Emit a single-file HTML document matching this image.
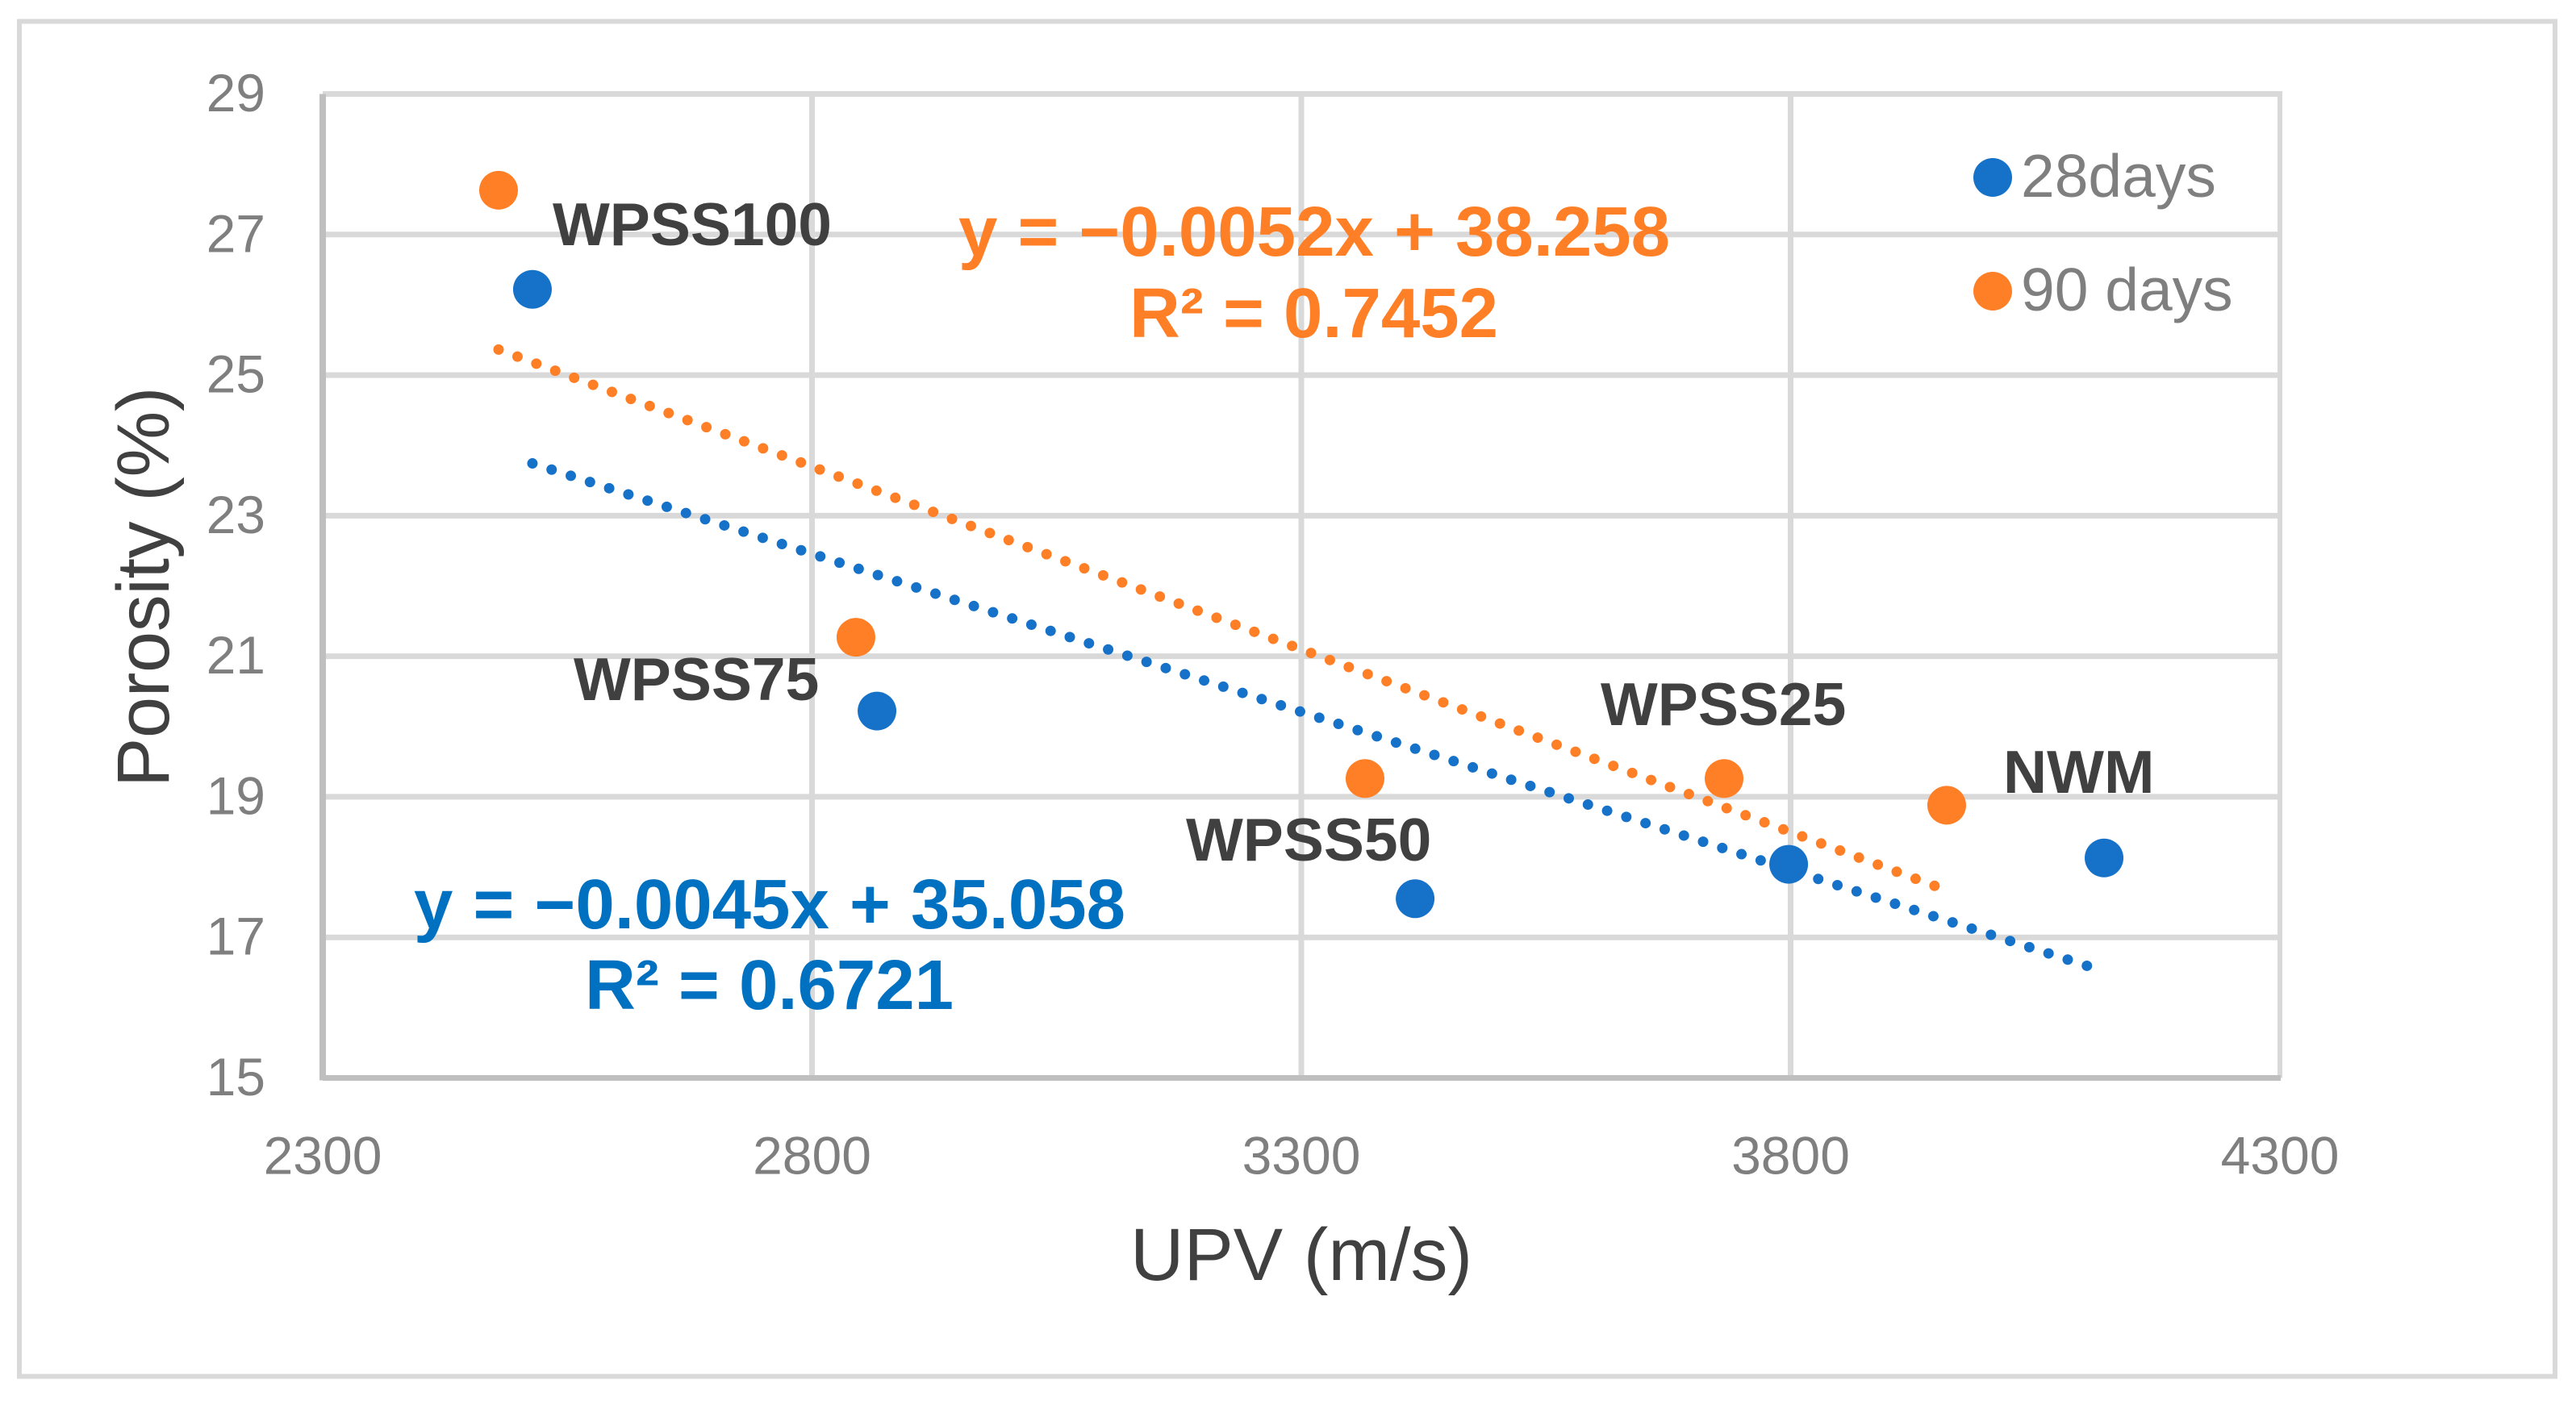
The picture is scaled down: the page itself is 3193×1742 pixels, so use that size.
<!DOCTYPE html>
<html lang="en">
<head>
<meta charset="utf-8">
<title>Porosity vs UPV</title>
<style>
html,body{margin:0;padding:0;background:#fff;}
svg{display:block;font-family:"Liberation Sans",sans-serif;}
.pt-label{font-size:75px;font-weight:700;fill:#404040;}
.eq{font-size:87px;font-weight:700;}
.tick{font-size:66px;fill:#7f7f7f;}
.legend-text{font-size:75px;fill:#7f7f7f;}
.axis-title{font-size:92px;fill:#404040;}
</style>
</head>
<body>
<svg id="chart" xmlns="http://www.w3.org/2000/svg" width="3193" height="1742" viewBox="0 0 3193 1742">
  <rect x="0" y="0" width="3193" height="1742" fill="#ffffff"/>
  <rect x="24" y="26.5" width="3143" height="1680" fill="none" stroke="#d9d9d9" stroke-width="6"/>
  <g id="grid"></g>
  <g id="axes"></g>
  <g id="ticks"></g>
  <g id="trends"></g>
  <g id="points"></g>

  <text class="pt-label" x="685" y="304">WPSS100</text>
  <text class="pt-label" x="711" y="868">WPSS75</text>
  <text class="pt-label" x="1470" y="1067">WPSS50</text>
  <text class="pt-label" x="1984" y="899">WPSS25</text>
  <text class="pt-label" x="2483" y="983">NWM</text>

  <text class="eq" x="1188" y="317" fill="#ff7f27" word-spacing="1">y = −0.0052x + 38.258</text>
  <text class="eq" x="1400" y="418" fill="#ff7f27">R² = 0.7452</text>
  <text class="eq" x="513" y="1151" fill="#0070c0" word-spacing="1">y = −0.0045x + 35.058</text>
  <text class="eq" x="725" y="1251" fill="#0070c0">R² = 0.6721</text>

  <circle cx="2470" cy="220" r="24" fill="#1672c8"/>
  <text class="legend-text" x="2505" y="244">28days</text>
  <circle cx="2470" cy="361" r="24" fill="#ff7f27"/>
  <text class="legend-text" x="2505" y="385">90 days</text>

  <text class="axis-title" x="1401" y="1587">UPV (m/s)</text>
  <text class="axis-title" letter-spacing="-0.4" transform="translate(209 976) rotate(-90)">Porosity (%)</text>
</svg>
<script>
const xTickValues = [2300, 2800, 3300, 3800, 4300];
const yTickValues = [15, 17, 19, 21, 23, 25, 27, 29];
const upv28days = [2514.3, 2866.4, 3416.3, 3798, 4120.3];
const porosity28days = [26.22, 20.22, 17.55, 18.04, 18.13];
const upv90days = [2479.7, 2844.9, 3365.1, 3732, 3959.5];
const porosity90days = [27.63, 21.27, 19.26, 19.26, 18.88];
const trendSlope28days = -0.0045;
const trendIntercept28days = 35.058;
const trendSlope90days = -0.0052;
const trendIntercept90days = 38.258;

const SVGNS = 'http://www.w3.org/2000/svg';
const plotLeft = 400, plotRight = 2826, plotTop = 116.5, plotBottom = 1336.5;
const xMin = xTickValues[0], xMax = xTickValues[xTickValues.length - 1];
const yMin = yTickValues[0], yMax = yTickValues[yTickValues.length - 1];
function xScale(v) { return plotLeft + (v - xMin) / (xMax - xMin) * (plotRight - plotLeft); }
function yScale(v) { return plotBottom - (v - yMin) / (yMax - yMin) * (plotBottom - plotTop); }
function mk(tag, attrs, parent) {
  const el = document.createElementNS(SVGNS, tag);
  for (const k in attrs) el.setAttribute(k, attrs[k]);
  parent.appendChild(el);
  return el;
}

const gridG = document.getElementById('grid');
const axesG = document.getElementById('axes');
const ticksG = document.getElementById('ticks');
const trendsG = document.getElementById('trends');
const pointsG = document.getElementById('points');

yTickValues.forEach(function (v) {
  if (v !== yMin) {
    const g = mk('line', {x1: plotLeft, x2: plotRight + 3, y1: yScale(v), y2: yScale(v), stroke: '#d9d9d9', 'stroke-width': 7}, gridG);
    
    
  }
  const t = mk('text', {class: 'tick', x: 329, y: yScale(v) + 21.5, 'text-anchor': 'end'}, ticksG);
  t.textContent = String(v);
  
  
});

xTickValues.forEach(function (v) {
  if (v !== xMin) {
    const g = mk('line', {x1: xScale(v), x2: xScale(v), y1: plotTop, y2: plotBottom, stroke: '#d9d9d9', 'stroke-width': v === xMax ? 6 : 7}, gridG);
    
    
  }
  const t = mk('text', {class: 'tick', x: xScale(v), y: 1455.5, 'text-anchor': 'middle'}, ticksG);
  t.textContent = String(v);
  
  
});

const yAxisLine = mk('line', {x1: plotLeft, x2: plotLeft, y1: plotTop, y2: plotBottom + 3, stroke: '#bfbfbf', 'stroke-width': 8}, axesG);


const xAxisLine = mk('line', {x1: plotLeft, x2: plotRight + 1, y1: plotBottom, y2: plotBottom, stroke: '#bfbfbf', 'stroke-width': 7}, axesG);



function drawTrend(xs, slope, intercept, color, name) {
  const x0 = Math.min.apply(null, xs), x1 = Math.max.apply(null, xs);
  const line = mk('line', {
    x1: xScale(x0), y1: yScale(slope * x0 + intercept),
    x2: xScale(x1), y2: yScale(slope * x1 + intercept),
    stroke: color, 'stroke-width': 13, 'stroke-linecap': 'round', 'stroke-dasharray': '0 25'
  }, trendsG);
  
  
}
drawTrend(upv28days, trendSlope28days, trendIntercept28days, '#1672c8', 'trendline-28days');
drawTrend(upv90days, trendSlope90days, trendIntercept90days, '#ff7f27', 'trendline-90days');

upv28days.forEach(function (x, i) {
  const c = mk('circle', {cx: xScale(x), cy: yScale(porosity28days[i]), r: 24, fill: '#1672c8'}, pointsG);
  
  
});
upv90days.forEach(function (x, i) {
  const c = mk('circle', {cx: xScale(x), cy: yScale(porosity90days[i]), r: 24, fill: '#ff7f27'}, pointsG);
  
  
});
</script>
</body>
</html>
